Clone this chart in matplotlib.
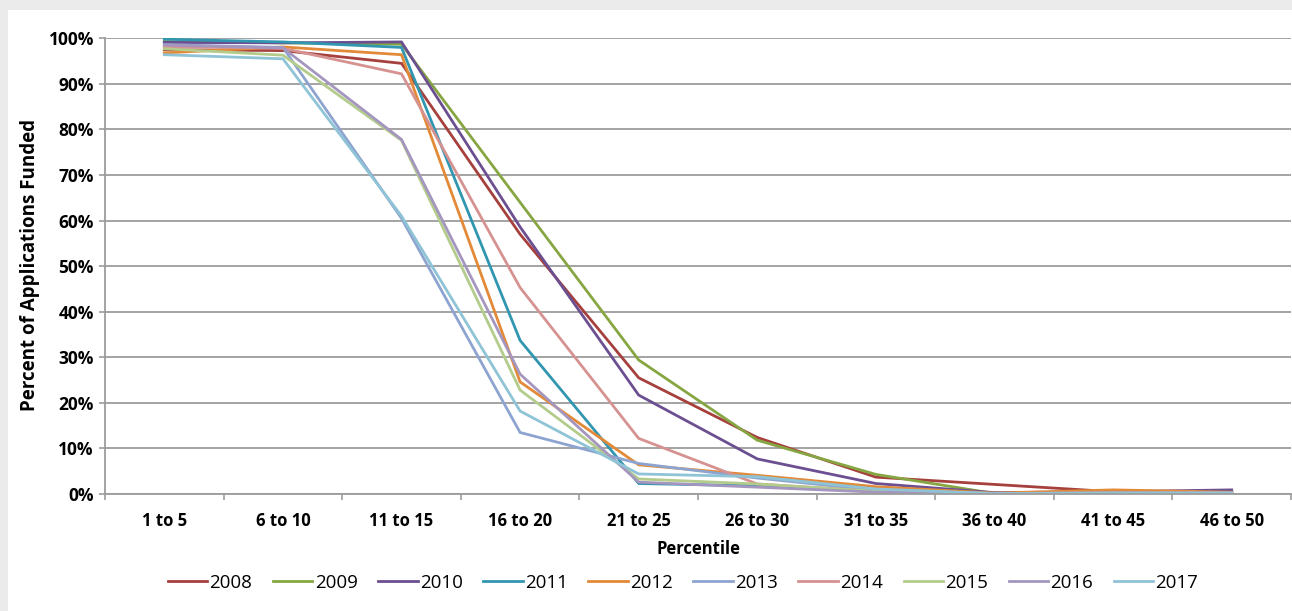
import matplotlib

matplotlib.use("Agg")
import matplotlib.pyplot as plt
import numpy as np
from matplotlib.patches import Rectangle

plt.rcParams["font.family"] = ["Open Sans", "DejaVu Sans"]

percentiles = ["1 to 5", "6 to 10", "11 to 15", "16 to 20", "21 to 25",
               "26 to 30", "31 to 35", "36 to 40", "41 to 45", "46 to 50"]

# percent of applications funded, by fiscal year
y2008 = [97.5, 97.3, 94.5, 57.0, 25.5, 12.4, 3.7, 2.1, 0.5, 0.5]
y2009 = [99.3, 99.0, 98.7, 64.0, 29.4, 11.8, 4.3, 0.1, 0.4, 0.4]
y2010 = [99.1, 99.0, 99.2, 58.6, 21.7, 7.7, 2.3, 0.3, 0.5, 0.9]
y2011 = [99.8, 99.2, 98.0, 33.7, 2.3, 1.8, 0.6, 0.1, 0.2, 0.2]
y2012 = [96.8, 98.1, 96.4, 24.6, 6.4, 4.1, 1.6, 0.2, 0.9, 0.4]
y2013 = [98.6, 98.0, 60.5, 13.5, 6.7, 3.5, 0.8, 0.1, 0.2, 0.2]
y2014 = [98.2, 97.8, 92.2, 45.3, 12.2, 2.2, 0.6, 0.1, 0.3, 0.3]
y2015 = [97.7, 96.3, 77.6, 22.8, 3.3, 2.2, 0.6, 0.1, 0.2, 0.2]
y2016 = [98.5, 97.9, 77.8, 26.3, 2.6, 1.5, 0.4, 0.1, 0.2, 0.2]
y2017 = [96.4, 95.5, 61.0, 18.2, 4.4, 3.8, 1.1, 0.1, 0.2, 0.2]

years = ["2008", "2009", "2010", "2011", "2012", "2013", "2014", "2015", "2016", "2017"]
series = [y2008, y2009, y2010, y2011, y2012, y2013, y2014, y2015, y2016, y2017]
colors = ["#A5403D", "#86A642", "#6C4F91", "#3196B0", "#E28A38",
          "#8EA4D0", "#D69290", "#B3CC8C", "#A496BE", "#8FC3D6"]

W, H = 1292, 611
fig = plt.figure(figsize=(W / 100, H / 100), dpi=100)
fig.patch.set_facecolor("#EBEBEB")
fig.patches.append(Rectangle((8 / W, 0), 1, 1 - 10 / H, transform=fig.transFigure,
                             facecolor="white", edgecolor="none", zorder=-5))

ax = fig.add_axes([105 / W, 1 - 494 / H, (1291 - 105) / W, (494 - 38.3) / H])
ax.set_facecolor("none")
ax.set_zorder(2)

x = np.arange(len(percentiles))
for yr, vals, c in zip(years, series, colors):
    ax.plot(x, np.array(vals) / 100, color=c, lw=2.0, label=yr, solid_joinstyle="miter")

ax.set_xlim(-0.5, len(percentiles) - 0.5)
ax.set_ylim(0, 1)

grid_c = "#9C9C9C"
ax.set_yticks(np.arange(0, 1.01, 0.1))
ax.set_yticklabels([f"{int(round(v * 100))}%" for v in np.arange(0, 1.01, 0.1)],
                   fontsize=12.5, fontweight="bold")
ax.yaxis.grid(True, color=grid_c, lw=1.3)
ax.set_axisbelow(True)

ax.set_xticks(x)
ax.set_xticklabels(percentiles, fontsize=12, fontweight="bold")
ax.set_xticks(np.arange(-0.5, len(percentiles)), minor=True)
ax.tick_params(axis="x", which="major", length=0, pad=13)
ax.tick_params(axis="x", which="minor", length=4, width=1.2, color=grid_c, direction="out")
ax.tick_params(axis="y", length=4, width=1.2, color=grid_c, direction="out", pad=4)

for side in ["top", "right"]:
    ax.spines[side].set_visible(False)
for side in ["left", "bottom"]:
    ax.spines[side].set_color(grid_c)
    ax.spines[side].set_linewidth(1.3)

fig.text(30 / W, 1 - 265 / H, "Percent of Applications Funded", rotation=90,
         ha="center", va="center", fontsize=13.5, fontweight="bold")
fig.text(698 / W, 1 - 549 / H, "Percentile", ha="center", va="center",
         fontsize=12, fontweight="bold")

fig.legend(loc="center", bbox_to_anchor=(683 / W, 1 - 583 / H), ncol=10, frameon=False,
           fontsize=13.5, handlelength=2.1, handletextpad=0.12, columnspacing=1.1)

fig.savefig("out.png", dpi=100, facecolor=fig.get_facecolor())
